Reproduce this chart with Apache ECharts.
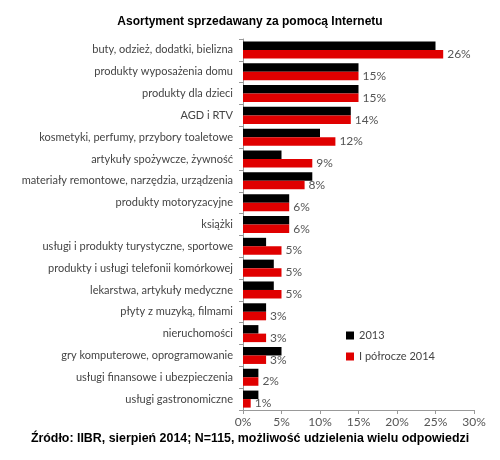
<!DOCTYPE html>
<html>
<head>
  <meta charset="UTF-8">
  <title>Asortyment sprzedawany za pomocą Internetu</title>
  <script src="https://cdn.jsdelivr.net/npm/echarts/dist/echarts.min.js"></script>
  <style>
    html, body { margin: 0; padding: 0; background: #fff; }
    #main { width: 500px; height: 460px; }
  </style>
</head>
<body>
  <div id="main"></div>
  <script>
    var categories = [
      'buty, odzież, dodatki, bielizna',
      'produkty wyposażenia domu',
      'produkty dla dzieci',
      'AGD i RTV',
      'kosmetyki, perfumy, przybory toaletowe',
      'artykuły spożywcze, żywność',
      'materiały remontowe, narzędzia, urządzenia',
      'produkty motoryzacyjne',
      'książki',
      'usługi i produkty turystyczne, sportowe',
      'produkty i usługi telefonii komórkowej',
      'lekarstwa, artykuły medyczne',
      'płyty z muzyką, filmami',
      'nieruchomości',
      'gry komputerowe, oprogramowanie',
      'usługi finansowe i ubezpieczenia',
      'usługi gastronomiczne'
    ];
    var values2013 = [25, 15, 15, 14, 10, 5, 9, 6, 6, 3, 4, 4, 3, 2, 5, 2, 2];
    var values2014 = [26, 15, 15, 14, 12, 9, 8, 6, 6, 5, 5, 5, 3, 3, 3, 2, 1];
    var xTicks = [0, 5, 10, 15, 20, 25, 30];

    var font = 'Lato';
    var chart = echarts.init(document.getElementById('main'));

    var option = {
      backgroundColor: '#ffffff',
      animation: false,
      title: [{
        text: 'Asortyment sprzedawany za pomocą Internetu',
        left: 'center',
        top: 11,
        textStyle: { fontFamily: 'Liberation Sans', fontSize: 12, fontWeight: 'bold', color: '#000' }
      }, {
        text: 'Źródło: IIBR, sierpień 2014; N=115, możliwość udzielenia wielu odpowiedzi',
        left: 'center',
        top: 428,
        textStyle: { fontFamily: 'Liberation Sans', fontSize: 12.4, fontWeight: 'bold', color: '#000' }
      }],
      legend: {
        orient: 'vertical',
        left: 341,
        top: 325,
        itemWidth: 8,
        itemHeight: 8,
        itemGap: 10,
        icon: 'rect',
        textStyle: { fontFamily: font, fontSize: 11, color: '#444' },
        data: ['2013', 'I półrocze 2014']
      },
      grid: { left: 243, right: 26, top: 39, bottom: 50 },
      xAxis: {
        type: 'value',
        min: xTicks[0],
        max: xTicks[xTicks.length - 1],
        interval: 5,
        axisLine: { show: true, lineStyle: { color: '#999' } },
        axisTick: { show: true, length: 4, lineStyle: { color: '#999' } },
        splitLine: { show: false },
        axisLabel: { fontFamily: font, fontSize: 12, color: '#555', margin: 6, formatter: '{value}%' }
      },
      yAxis: {
        type: 'category',
        inverse: true,
        data: categories,
        axisLine: { show: true, lineStyle: { color: '#999' } },
        axisTick: { show: true, length: 4, lineStyle: { color: '#999' } },
        axisLabel: { fontFamily: font, fontSize: 11, color: '#444', margin: 10 }
      },
      series: [{
        name: '2013',
        type: 'bar',
        data: values2013,
        barGap: '0%',
        barCategoryGap: '22%',
        itemStyle: { color: '#000000' }
      }, {
        name: 'I półrocze 2014',
        type: 'bar',
        data: values2014,
        itemStyle: { color: '#e00000' },
        label: {
          show: true,
          position: 'right',
          distance: 4,
          formatter: '{c}%',
          fontFamily: font,
          fontSize: 12,
          color: '#555'
        }
      }]
    };

    chart.setOption(option);
  </script>
</body>
</html>
